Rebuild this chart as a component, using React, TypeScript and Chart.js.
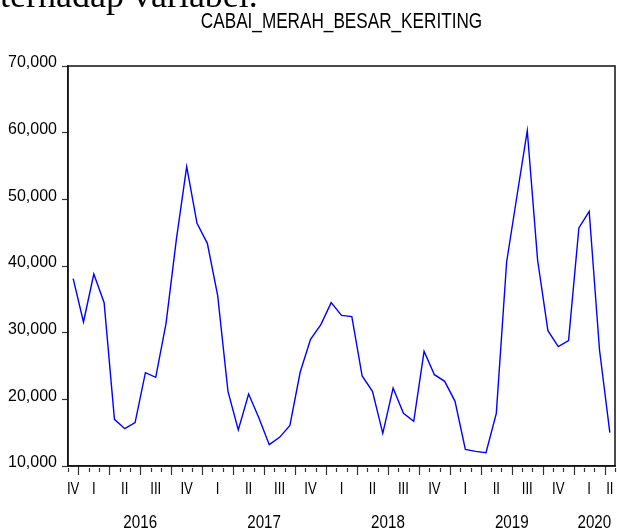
import React, { useEffect, useRef } from "react";
import { Chart, registerables } from "chart.js";

Chart.register(...registerables);

const TITLE = "CABAI_MERAH_BESAR_KERITING";
const HEADER_TEXT = "terhadap variabel.";

const months = [
  "2015-12",
  "2016-01", "2016-02", "2016-03", "2016-04", "2016-05", "2016-06",
  "2016-07", "2016-08", "2016-09", "2016-10", "2016-11", "2016-12",
  "2017-01", "2017-02", "2017-03", "2017-04", "2017-05", "2017-06",
  "2017-07", "2017-08", "2017-09", "2017-10", "2017-11", "2017-12",
  "2018-01", "2018-02", "2018-03", "2018-04", "2018-05", "2018-06",
  "2018-07", "2018-08", "2018-09", "2018-10", "2018-11", "2018-12",
  "2019-01", "2019-02", "2019-03", "2019-04", "2019-05", "2019-06",
  "2019-07", "2019-08", "2019-09", "2019-10", "2019-11", "2019-12",
  "2020-01", "2020-02", "2020-03", "2020-04",
];

const values = [
  38100,
  31600, 38800, 34500, 17000, 15600, 16500,
  24000, 23300, 31400, 44000, 54900, 46400,
  43400, 35600, 21200, 15400, 20800, 17200,
  13200, 14300, 16100, 24100, 29000, 31200,
  34500, 32600, 32400, 23500, 21200, 14900,
  21700, 17900, 16700, 27200, 23700, 22700,
  19700, 12500, 12200, 12000, 17900, 40600,
  50500, 60300, 40900, 30300, 27900, 28800,
  45700, 48200, 27400, 15000,
];

const yMin = 10000;
const yMax = 70000;
const yStep = 10000;

const quarterNames = ["I", "II", "III", "IV"];
const yearLabels = ["2016", "2017", "2018", "2019", "2020"];

type Span = { key: string; label: string; start: number; end: number };

function quarterSpans(): Span[] {
  const spans: Span[] = [];
  months.forEach((m, i) => {
    const [y, mo] = m.split("-").map(Number);
    const q = Math.ceil(mo / 3);
    const key = y + "Q" + q;
    const last = spans[spans.length - 1];
    if (last && last.key === key) last.end = i + 1;
    else spans.push({ key, label: quarterNames[q - 1], start: i, end: i + 1 });
  });
  return spans;
}

function yearSpans(): Span[] {
  return yearLabels.map((yl) => {
    const idx = months.map((m, i) => (m.startsWith(yl) ? i : -1)).filter((i) => i >= 0);
    return { key: yl, label: yl, start: idx[0], end: idx[idx.length - 1] + 1 };
  });
}

const qSpans = quarterSpans();
const ySpans = yearSpans();
const center = (s: Span) => (s.start + s.end) / 2;

const SANS = "'Liberation Sans', Arial, sans-serif";

function narrowText(
  ctx: CanvasRenderingContext2D,
  text: string,
  x: number,
  y: number,
  size: number,
  squeeze: number
) {
  ctx.save();
  ctx.font = `${size}px ${SANS}`;
  ctx.fillStyle = "#000";
  ctx.textAlign = "center";
  ctx.textBaseline = "alphabetic";
  ctx.translate(x, y);
  ctx.scale(squeeze, 1);
  ctx.fillText(text, 0, 0);
  ctx.restore();
}

const framePlugin = {
  id: "frameTicksLabels",
  afterDraw(chart: any) {
    const { ctx, chartArea } = chart;
    const xs = chart.scales.x;
    ctx.save();
    // month ticks (longer at quarter starts)
    ctx.strokeStyle = "#333";
    ctx.lineWidth = 1.2;
    for (let b = 0; b <= months.length; b++) {
      let mo: number;
      if (b < months.length) mo = Number(months[b].split("-")[1]);
      else mo = (Number(months[months.length - 1].split("-")[1]) % 12) + 1;
      const major = (mo - 1) % 3 === 0;
      const px = Math.round(xs.getPixelForValue(b)) + 0.5;
      ctx.beginPath();
      ctx.moveTo(px, chartArea.bottom + (major ? 0 : 2));
      ctx.lineTo(px, chartArea.bottom + (major ? 9 : 6));
      ctx.stroke();
    }
    // frame
    ctx.strokeStyle = "#111";
    ctx.lineWidth = 1.5;
    ctx.strokeRect(chartArea.left, chartArea.top, chartArea.right - chartArea.left, chartArea.bottom - chartArea.top);
    ctx.restore();

    // quarter labels
    qSpans.forEach((q) => narrowText(ctx, q.label, xs.getPixelForValue(center(q)), chartArea.bottom + 28, 16.5, 0.8));
    // year labels
    ySpans.forEach((y) => narrowText(ctx, y.label, xs.getPixelForValue(center(y)), chartArea.bottom + 62, 18.5, 0.82));
    // title
    narrowText(ctx, TITLE, (chartArea.left + chartArea.right) / 2, 28, 22, 0.78);
  },
};

export default function App() {
  const ref = useRef<HTMLCanvasElement | null>(null);

  useEffect(() => {
    if (!ref.current) return;
    const chart = new Chart(ref.current, {
      type: "line",
      data: {
        datasets: [
          {
            label: TITLE,
            data: values.map((v, i) => ({ x: i + 0.5, y: v })),
            borderColor: "#0000ff",
            borderWidth: 1.4,
            pointRadius: 0,
            tension: 0,
            fill: false,
          },
        ],
      },
      options: {
        animation: false,
        responsive: false,
        locale: "en-US",
        layout: { padding: { top: 66, right: 2, bottom: 0, left: 0 } },
        plugins: {
          legend: { display: false },
          tooltip: { enabled: false },
          title: { display: false },
        },
        scales: {
          x: {
            type: "linear",
            position: "bottom",
            min: 0,
            max: months.length,
            ticks: { display: false },
            grid: { drawOnChartArea: false, drawTicks: false },
            border: { display: true, color: "#222", width: 1.5 },
            afterFit: (s: any) => {
              s.height = 64;
              s.paddingLeft = 0;
              s.paddingRight = 0;
            },
          },
          y: {
            type: "linear",
            min: yMin,
            max: yMax,
            ticks: {
              stepSize: yStep,
              padding: 5,
              labelOffset: -3,
              color: "#000",
              font: { family: SANS, size: 16 },
            },
            grid: { drawOnChartArea: false, tickLength: 6, color: "#333", tickWidth: 1.2 },
            border: { display: true, color: "#222", width: 1.5 },
            afterFit: (s: any) => {
              s.width = 68;
              s.paddingTop = 0;
              s.paddingBottom = 0;
            },
          },
        },
      },
      plugins: [framePlugin],
    } as any);
    return () => chart.destroy();
  }, []);

  return (
    <div
      style={{
        position: "fixed",
        left: 0,
        top: 0,
        width: 617,
        height: 530,
        background: "#fff",
        overflow: "hidden",
      }}
    >
      <div
        style={{
          position: "absolute",
          left: 0,
          top: -22,
          fontFamily: "'Liberation Serif', 'Times New Roman', serif",
          fontSize: 36,
          lineHeight: "35px",
          whiteSpace: "nowrap",
          color: "#000",
        }}
      >
        {HEADER_TEXT}
      </div>
      <canvas ref={ref} width={617} height={530} style={{ width: 617, height: 530, display: "block" }} />
    </div>
  );
}
